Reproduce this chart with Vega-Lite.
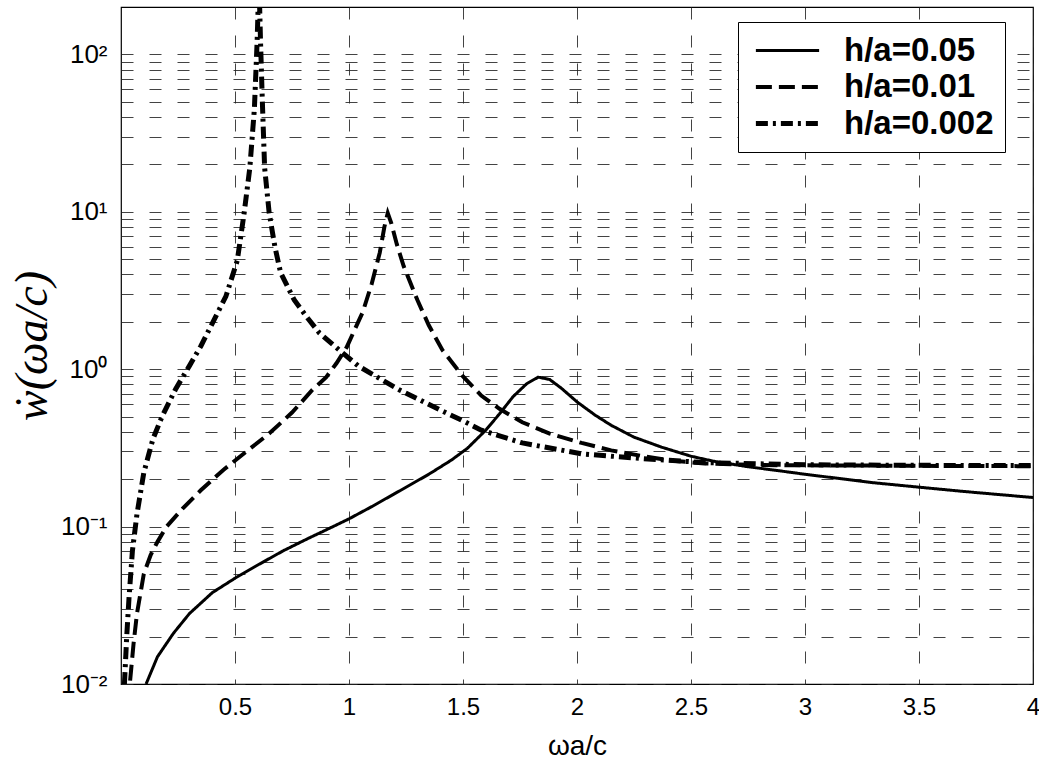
{
  "$schema": "https://vega.github.io/schema/vega-lite/v6.json",
  "autosize": "none",
  "padding": {"left": 121, "top": 7, "right": 6, "bottom": 87},
  "width": 912,
  "height": 677,
  "background": "white",
  "config": {
    "view": {"stroke": "#000", "strokeWidth": 1.2},
    "axis": {
      "labelFont": "Liberation Sans",
      "labelColor": "#000",
      "titleColor": "#000",
      "grid": true,
      "gridColor": "#222",
      "gridDash": [12, 16],
      "gridWidth": 1,
      "gridOpacity": 0.85,
      "domain": false,
      "ticks": false
    },
    "legend": {
      "title": null,
      "orient": "none",
      "legendX": 617,
      "legendY": 15,
      "symbolType": "M-2,0H2",
      "symbolSize": 1000,
      "symbolOffset": 20,
      "symbolStrokeColor": "#000",
      "labelFont": "Liberation Sans",
      "labelFontSize": 33,
      "labelFontWeight": "bold",
      "labelColor": "#000",
      "labelOffset": 38,
      "strokeColor": "#000",
      "fillColor": "#fff",
      "padding": 11,
      "rowPadding": 1
    }
  },
  "data": {
    "values": [
      {"s": "h/a=0.05", "x": 0.11, "y": 0.01},
      {"s": "h/a=0.05", "x": 0.16, "y": 0.0149},
      {"s": "h/a=0.05", "x": 0.23, "y": 0.021},
      {"s": "h/a=0.05", "x": 0.3, "y": 0.028},
      {"s": "h/a=0.05", "x": 0.4, "y": 0.038},
      {"s": "h/a=0.05", "x": 0.5, "y": 0.047},
      {"s": "h/a=0.05", "x": 0.6, "y": 0.057},
      {"s": "h/a=0.05", "x": 0.71, "y": 0.07},
      {"s": "h/a=0.05", "x": 0.82, "y": 0.084},
      {"s": "h/a=0.05", "x": 0.93, "y": 0.1},
      {"s": "h/a=0.05", "x": 1.0, "y": 0.112},
      {"s": "h/a=0.05", "x": 1.1, "y": 0.134},
      {"s": "h/a=0.05", "x": 1.22, "y": 0.168},
      {"s": "h/a=0.05", "x": 1.35, "y": 0.215},
      {"s": "h/a=0.05", "x": 1.45, "y": 0.265},
      {"s": "h/a=0.05", "x": 1.52, "y": 0.315},
      {"s": "h/a=0.05", "x": 1.6, "y": 0.41},
      {"s": "h/a=0.05", "x": 1.66, "y": 0.52},
      {"s": "h/a=0.05", "x": 1.72, "y": 0.67},
      {"s": "h/a=0.05", "x": 1.78, "y": 0.81},
      {"s": "h/a=0.05", "x": 1.83, "y": 0.89},
      {"s": "h/a=0.05", "x": 1.88, "y": 0.86},
      {"s": "h/a=0.05", "x": 1.93, "y": 0.76},
      {"s": "h/a=0.05", "x": 2.0, "y": 0.62},
      {"s": "h/a=0.05", "x": 2.08, "y": 0.51},
      {"s": "h/a=0.05", "x": 2.15, "y": 0.44},
      {"s": "h/a=0.05", "x": 2.25, "y": 0.37},
      {"s": "h/a=0.05", "x": 2.37, "y": 0.32},
      {"s": "h/a=0.05", "x": 2.5, "y": 0.28},
      {"s": "h/a=0.05", "x": 2.6, "y": 0.26},
      {"s": "h/a=0.05", "x": 2.75, "y": 0.24},
      {"s": "h/a=0.05", "x": 2.87, "y": 0.228},
      {"s": "h/a=0.05", "x": 3.0, "y": 0.215},
      {"s": "h/a=0.05", "x": 3.14, "y": 0.203},
      {"s": "h/a=0.05", "x": 3.3, "y": 0.19},
      {"s": "h/a=0.05", "x": 3.5, "y": 0.178},
      {"s": "h/a=0.05", "x": 3.7, "y": 0.167},
      {"s": "h/a=0.05", "x": 3.89, "y": 0.158},
      {"s": "h/a=0.05", "x": 4.0, "y": 0.153},

      {"s": "h/a=0.01", "x": 0.04, "y": 0.0105},
      {"s": "h/a=0.01", "x": 0.055, "y": 0.018},
      {"s": "h/a=0.01", "x": 0.07, "y": 0.028},
      {"s": "h/a=0.01", "x": 0.1, "y": 0.05},
      {"s": "h/a=0.01", "x": 0.13, "y": 0.066},
      {"s": "h/a=0.01", "x": 0.16, "y": 0.08},
      {"s": "h/a=0.01", "x": 0.2, "y": 0.1},
      {"s": "h/a=0.01", "x": 0.27, "y": 0.13},
      {"s": "h/a=0.01", "x": 0.35, "y": 0.17},
      {"s": "h/a=0.01", "x": 0.45, "y": 0.23},
      {"s": "h/a=0.01", "x": 0.55, "y": 0.3},
      {"s": "h/a=0.01", "x": 0.65, "y": 0.39},
      {"s": "h/a=0.01", "x": 0.75, "y": 0.53},
      {"s": "h/a=0.01", "x": 0.84, "y": 0.74},
      {"s": "h/a=0.01", "x": 0.9, "y": 0.89},
      {"s": "h/a=0.01", "x": 0.945, "y": 1.09},
      {"s": "h/a=0.01", "x": 0.99, "y": 1.38},
      {"s": "h/a=0.01", "x": 1.03, "y": 1.85},
      {"s": "h/a=0.01", "x": 1.06, "y": 2.3},
      {"s": "h/a=0.01", "x": 1.1, "y": 3.5},
      {"s": "h/a=0.01", "x": 1.135, "y": 5.5},
      {"s": "h/a=0.01", "x": 1.155, "y": 8},
      {"s": "h/a=0.01", "x": 1.17, "y": 9.8},
      {"s": "h/a=0.01", "x": 1.185, "y": 8.5},
      {"s": "h/a=0.01", "x": 1.21, "y": 6.2},
      {"s": "h/a=0.01", "x": 1.24, "y": 4.5},
      {"s": "h/a=0.01", "x": 1.3, "y": 2.75},
      {"s": "h/a=0.01", "x": 1.35, "y": 1.9},
      {"s": "h/a=0.01", "x": 1.41, "y": 1.32},
      {"s": "h/a=0.01", "x": 1.5, "y": 0.9},
      {"s": "h/a=0.01", "x": 1.58, "y": 0.68},
      {"s": "h/a=0.01", "x": 1.66, "y": 0.56},
      {"s": "h/a=0.01", "x": 1.76, "y": 0.46},
      {"s": "h/a=0.01", "x": 1.88, "y": 0.39},
      {"s": "h/a=0.01", "x": 2.02, "y": 0.34},
      {"s": "h/a=0.01", "x": 2.15, "y": 0.305},
      {"s": "h/a=0.01", "x": 2.29, "y": 0.28},
      {"s": "h/a=0.01", "x": 2.42, "y": 0.262},
      {"s": "h/a=0.01", "x": 2.56, "y": 0.252},
      {"s": "h/a=0.01", "x": 2.7, "y": 0.248},
      {"s": "h/a=0.01", "x": 2.82, "y": 0.246},
      {"s": "h/a=0.01", "x": 3.0, "y": 0.245},
      {"s": "h/a=0.01", "x": 3.3, "y": 0.244},
      {"s": "h/a=0.01", "x": 3.6, "y": 0.243},
      {"s": "h/a=0.01", "x": 4.0, "y": 0.242},

      {"s": "h/a=0.002", "x": 0.015, "y": 0.01},
      {"s": "h/a=0.002", "x": 0.025, "y": 0.02},
      {"s": "h/a=0.002", "x": 0.035, "y": 0.035},
      {"s": "h/a=0.002", "x": 0.05, "y": 0.07},
      {"s": "h/a=0.002", "x": 0.07, "y": 0.12},
      {"s": "h/a=0.002", "x": 0.1, "y": 0.22},
      {"s": "h/a=0.002", "x": 0.14, "y": 0.36},
      {"s": "h/a=0.002", "x": 0.18, "y": 0.5},
      {"s": "h/a=0.002", "x": 0.24, "y": 0.75},
      {"s": "h/a=0.002", "x": 0.3, "y": 1.05},
      {"s": "h/a=0.002", "x": 0.35, "y": 1.4},
      {"s": "h/a=0.002", "x": 0.4, "y": 1.95},
      {"s": "h/a=0.002", "x": 0.46, "y": 2.9},
      {"s": "h/a=0.002", "x": 0.51, "y": 4.9},
      {"s": "h/a=0.002", "x": 0.54, "y": 9.8},
      {"s": "h/a=0.002", "x": 0.565, "y": 19},
      {"s": "h/a=0.002", "x": 0.585, "y": 45},
      {"s": "h/a=0.002", "x": 0.597, "y": 120},
      {"s": "h/a=0.002", "x": 0.605, "y": 300},
      {"s": "h/a=0.002", "x": 0.612, "y": 120},
      {"s": "h/a=0.002", "x": 0.62, "y": 50},
      {"s": "h/a=0.002", "x": 0.63, "y": 19},
      {"s": "h/a=0.002", "x": 0.65, "y": 9.8},
      {"s": "h/a=0.002", "x": 0.675, "y": 6},
      {"s": "h/a=0.002", "x": 0.7, "y": 4.1},
      {"s": "h/a=0.002", "x": 0.76, "y": 2.75},
      {"s": "h/a=0.002", "x": 0.82, "y": 2.1},
      {"s": "h/a=0.002", "x": 0.87, "y": 1.7},
      {"s": "h/a=0.002", "x": 0.95, "y": 1.35},
      {"s": "h/a=0.002", "x": 1.04, "y": 1.05},
      {"s": "h/a=0.002", "x": 1.16, "y": 0.83},
      {"s": "h/a=0.002", "x": 1.22, "y": 0.74},
      {"s": "h/a=0.002", "x": 1.3, "y": 0.65},
      {"s": "h/a=0.002", "x": 1.4, "y": 0.55},
      {"s": "h/a=0.002", "x": 1.5, "y": 0.47},
      {"s": "h/a=0.002", "x": 1.58, "y": 0.41},
      {"s": "h/a=0.002", "x": 1.76, "y": 0.34},
      {"s": "h/a=0.002", "x": 2.02, "y": 0.29},
      {"s": "h/a=0.002", "x": 2.29, "y": 0.27},
      {"s": "h/a=0.002", "x": 2.56, "y": 0.255},
      {"s": "h/a=0.002", "x": 3.0, "y": 0.247},
      {"s": "h/a=0.002", "x": 3.5, "y": 0.245},
      {"s": "h/a=0.002", "x": 4.0, "y": 0.244}
    ]
  },
  "mark": {"type": "line", "clip": true, "color": "#000", "strokeCap": "butt"},
  "encoding": {
    "x": {
      "field": "x",
      "type": "quantitative",
      "scale": {"domain": [0, 4], "nice": false, "zero": false},
      "axis": {
        "values": [0.5, 1, 1.5, 2, 2.5, 3, 3.5, 4],
        "format": "~g",
        "labelFontSize": 24,
        "labelPadding": 11,
        "labelFlush": false,
        "title": "ωa/c",
        "titleFont": "Liberation Sans",
        "titleFontSize": 28,
        "titleFontWeight": "normal",
        "titlePadding": 13
      }
    },
    "y": {
      "field": "y",
      "type": "quantitative",
      "scale": {"type": "log", "domain": [0.01, 200], "nice": false},
      "axis": {
        "values": [0.01, 0.02, 0.03, 0.04, 0.05, 0.06, 0.07, 0.08, 0.09, 0.1, 0.2, 0.3, 0.4, 0.5, 0.6, 0.7, 0.8, 0.9, 1, 2, 3, 4, 5, 6, 7, 8, 9, 10, 20, 30, 40, 50, 60, 70, 80, 90, 100],
        "labelExpr": "datum.value == 0.01 ? '10⁻²' : datum.value == 0.1 ? '10⁻¹' : datum.value == 1 ? '10⁰' : datum.value == 10 ? '10¹' : datum.value == 100 ? '10²' : ''",
        "labelFontSize": 26,
        "labelPadding": 14,
        "labelFlush": false,
        "labelOverlap": false,
        "title": "ẇ(ωa/c)",
        "titleFont": "Liberation Serif",
        "titleFontStyle": "italic",
        "titleFontWeight": "normal",
        "titleFontSize": 46,
        "titlePadding": 4
      }
    },
    "strokeDash": {
      "field": "s",
      "type": "nominal",
      "scale": {"domain": ["h/a=0.05", "h/a=0.01", "h/a=0.002"], "range": [[1, 0], [16, 7], [12, 5, 3, 5]]},
      "legend": {"title": null}
    },
    "strokeWidth": {
      "field": "s",
      "type": "nominal",
      "scale": {"domain": ["h/a=0.05", "h/a=0.01", "h/a=0.002"], "range": [3, 5, 5]},
      "legend": {"title": null}
    }
  }
}
